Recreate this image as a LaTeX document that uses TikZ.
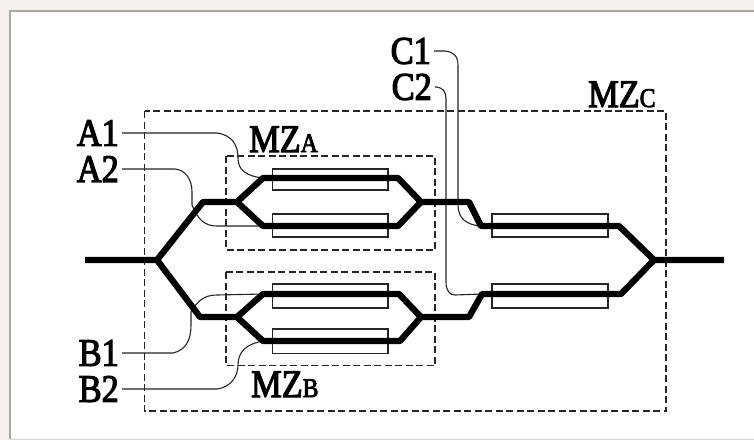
\documentclass[tikz,border=0pt]{standalone}
\usepackage{xcolor}
\usepackage{fontspec}
\setmainfont[FakeBold=3,FakeStretch=0.88]{Liberation Serif}
\definecolor{paper}{HTML}{F5F0EC}
\definecolor{frame}{HTML}{A8A8A8}

\begin{document}
\begin{tikzpicture}[x=1pt,y=-1pt]
\tikzstyle{guide} = [line width=6.3pt,line join=round,black]
\tikzstyle{wire} = [line width=1.1pt,black!85]
\tikzstyle{electrode} = [draw,line width=1.1pt,black!85]
\tikzstyle{mzbox} = [draw,line width=1.1pt,black!85,dash pattern=on 7pt off 3.5pt]
\tikzstyle{pin} = [inner sep=3pt,anchor=east,font=\fontsize{39}{39}\selectfont]
\tikzstyle{mzname} = [inner sep=0pt,anchor=base west,font=\fontsize{39}{39}\selectfont]
\newcommand{\subsmall}[1]{{\fontsize{27}{27}\selectfont #1}}
%
\useasboundingbox (0,0) rectangle (754,440);
\fill[paper] (0,0) rectangle (754,440);
\fill[white] (10,11) rectangle (754,439);
\draw[frame,line width=1.5pt] (754,11) -- (10,11) -- (10,439);
\draw[frame!50,line width=1pt] (10,439) -- (754,439);

%dashed boxes
	\draw[mzbox] (144.5,111) rectangle (666,411);
	\draw[mzbox] (226,156) rectangle (435,250);
	\draw[mzbox] (226,272) rectangle (435,365.5);

%electrodes
	\draw[electrode] (272.5,169) rectangle (388,190);
	\draw[electrode] (272.5,214) rectangle (388,237);
	\draw[electrode] (272.5,284) rectangle (388,308);
	\draw[electrode] (272.5,329) rectangle (388,353.5);
	\draw[electrode] (492,214) rectangle (608,237);
	\draw[electrode] (492,284) rectangle (608,308);

%labels
	\node[pin] (A1) at (122,133) {A1};
	\node[pin] (A2) at (122,169) {A2};
	\node[pin] (B1) at (122,353) {B1};
	\node[pin] (B2) at (122,389) {B2};
	\node[pin] (C1) at (434,51) {C1};
	\node[pin] (C2) at (435,87) {C2};
	\node[mzname] (MZA) at (249,152) {MZ\subsmall{A}};
	\node[mzname] (MZB) at (251,397) {MZ\subsmall{B}};
	\node[mzname] (MZC) at (588,107) {MZ\subsmall{C}};

%junctions
	\coordinate (in) at (85,260);
	\coordinate (split) at (157,260);
	\coordinate (upL) at (203,202);
	\coordinate (upS) at (237,202);
	\coordinate (upT) at (263,178);
	\coordinate (upTe) at (398,178);
	\coordinate (upB) at (263,226);
	\coordinate (upBe) at (398,226);
	\coordinate (upJ) at (421,202);
	\coordinate (upR) at (469,202);
	\coordinate (cT) at (481,226);
	\coordinate (cTe) at (619,226);
	\coordinate (loL) at (200,317);
	\coordinate (loS) at (237,317);
	\coordinate (loT) at (263,294);
	\coordinate (loTe) at (399,294);
	\coordinate (loB) at (263,341);
	\coordinate (loBe) at (400,341);
	\coordinate (loJ) at (421,317);
	\coordinate (loR) at (469,317);
	\coordinate (cB) at (482,294);
	\coordinate (cBe) at (621,294);
	\coordinate (merge) at (654,260);
	\coordinate (out) at (724,260);

%thin wires
	\draw[wire] (A1.east) -- (217,133) .. controls (232,135) and (238,145) .. (238,158) .. controls (238,170) and (246,176) .. (upT);
	\draw[wire] (A2.east) -- (175,169) .. controls (186,170) and (192,180) .. (192,192) -- (192,205) .. controls (198,220) and (205,226) .. (217,226) -- (upB);
	\draw[wire] (B1.east) -- (173,353) .. controls (186,350) and (191,340) .. (191,325) -- (191,312) .. controls (198,300) and (205,295) .. (217,295) -- (loT);
	\draw[wire] (B2.east) -- (217,389) .. controls (232,387) and (238,375) .. (238,365) .. controls (238,352) and (246,344) .. (loB);
	\draw[wire] (C1.east) -- (445,51) .. controls (454,52) and (458,56) .. (458,66) -- (458,205) .. controls (458,218) and (466,225) .. (cT);
	\draw[wire] (C2.east) -- (437,87) .. controls (443,88) and (446,92) .. (446,98) -- (446,282) .. controls (446,291) and (450,295) .. (455,295) -- (cB);

%waveguides
	\draw[guide] (in) -- (split) -- (upL) -- (upS) -- (upT) -- (upTe) -- (upJ) -- (upR) -- (cT) -- (cTe) -- (merge) -- (out);
	\draw[guide] (upS) -- (upB) -- (upBe) -- (upJ);
	\draw[guide] (split) -- (loL) -- (loS) -- (loT) -- (loTe) -- (loJ) -- (loR) -- (cB) -- (cBe) -- (merge);
	\draw[guide] (loS) -- (loB) -- (loBe) -- (loJ);
\end{tikzpicture}
\end{document}
